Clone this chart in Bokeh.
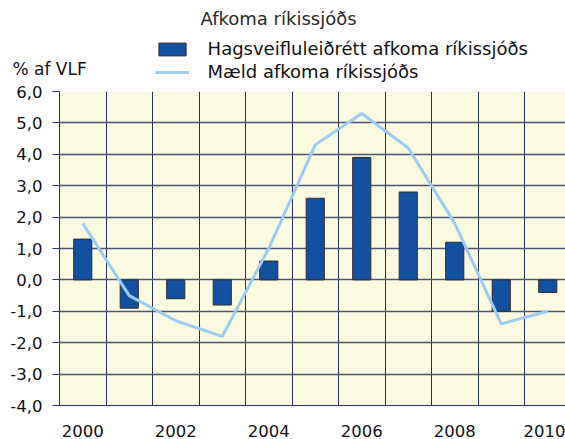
from bokeh.plotting import figure
from bokeh.layouts import column
from bokeh.models import Range1d, FixedTicker, Label, Legend, LegendItem, ColumnDataSource
from bokeh.embed import file_html
from bokeh.resources import INLINE

# ---- data ----
years = ["2000", "2001", "2002", "2003", "2004", "2005", "2006", "2007", "2008", "2009", "2010"]
structural_balance = [1.3, -0.9, -0.6, -0.8, 0.6, 2.6, 3.9, 2.8, 1.2, -1.0, -0.4]
measured_balance = [1.8, -0.5, -1.3, -1.8, 1.0, 4.3, 5.3, 4.2, 1.8, -1.4, -1.0]
y_ticks = [-4, -3, -2, -1, 0, 1, 2, 3, 4, 5, 6]
y_tick_labels = ["-4,0", "-3,0", "-2,0", "-1,0", "0,0", "1,0", "2,0", "3,0", "4,0", "5,0", "6,0"]
title_text = "Afkoma ríkissjóðs"
series_names = ["Hagsveifluleiðrétt afkoma ríkissjóðs", "Mæld afkoma ríkissjóðs"]
unit_text = "% af VLF"

# ---- styles / layout (pixels) ----
W = 565
TOP_H = 82
MAIN_H = 439 - TOP_H
LEFT = 59
PX_PER_CAT = 46.5
FONT = "DejaVu Sans"
NAVY = "#26305e"
HGRID = "#4c5474"
BAR_FILL = "#1450A0"
BAR_LINE = "#2d2d2d"
LINE_COLOR = "#9DCBEF"
TEXT = "#111111"

idx = list(range(len(years)))
src = ColumnDataSource(dict(x=idx, s=structural_balance, m=measured_balance))

# ---------- header figure: title, legend, unit ----------
top = figure(width=W, height=TOP_H, output_backend="svg", toolbar_location=None,
             x_range=Range1d(-10, -9), y_range=Range1d(0, 1),
             x_axis_location=None, y_axis_location=None,
             min_border=0, outline_line_color=None, frame_align=False,
             background_fill_color="white", border_fill_color="white")
top.xgrid.visible = False
top.ygrid.visible = False

# legend-only renderers (their data lies outside this header's ranges)
leg_bar = top.vbar(x="x", top="s", bottom=0, width=0.39, source=src,
                   fill_color=BAR_FILL, line_color=BAR_LINE, line_width=1)
leg_line = top.line(x="x", y="m", source=src, line_color=LINE_COLOR, line_width=3)

top.add_layout(Label(x=278, y=TOP_H - 17.5, x_units="screen", y_units="screen",
                     text=title_text, text_align="center", text_baseline="middle",
                     text_font=FONT, text_font_size="18px", text_color="#2a2a2a"))
top.add_layout(Label(x=12, y=TOP_H - 68, x_units="screen", y_units="screen",
                     text=unit_text, text_align="left", text_baseline="middle",
                     text_font=FONT, text_font_size="17px", text_color=TEXT))

legend = Legend(items=[LegendItem(label=series_names[0], renderers=[leg_bar]),
                       LegendItem(label=series_names[1], renderers=[leg_line])],
                location=(154.6, 0), orientation="vertical",
                padding=0, margin=0, spacing=2, glyph_width=34, glyph_height=16,
                label_height=21, label_standoff=19,
                border_line_color=None, background_fill_alpha=0,
                label_text_font=FONT, label_text_font_size="18px", label_text_color=TEXT)
top.add_layout(legend)

# ---------- main chart ----------
frame_w = W - LEFT
p = figure(width=W, height=MAIN_H, output_backend="svg", toolbar_location=None,
           x_range=Range1d(-0.5, -0.5 + frame_w / PX_PER_CAT),
           y_range=Range1d(y_ticks[0], y_ticks[-1]),
           min_border_left=LEFT, min_border_right=0, min_border_top=91 - TOP_H,
           min_border_bottom=33,
           background_fill_color="#FAFAE1", border_fill_color="white",
           outline_line_color=None, frame_align=False)

bars = p.vbar(x="x", top="s", bottom=0, width=0.39, source=src,
              fill_color=BAR_FILL, line_color=BAR_LINE, line_width=1)
line = p.line(x="x", y="m", source=src, line_color=LINE_COLOR, line_width=3)

p.xgrid.ticker = FixedTicker(ticks=[i - 0.5 for i in idx] + [len(idx) - 0.5])
p.xgrid.grid_line_color = NAVY
p.xgrid.grid_line_width = 1
p.ygrid.ticker = FixedTicker(ticks=y_ticks)
p.ygrid.grid_line_color = HGRID
p.ygrid.grid_line_width = 1.3

xa = p.xaxis[0]
xa.ticker = FixedTicker(ticks=idx[::2])
xa.major_label_overrides = {i: years[i] for i in idx[::2]}
xa.major_tick_line_color = None
xa.minor_tick_line_color = None
xa.axis_line_color = NAVY
xa.major_label_standoff = 13
xa.major_label_text_font = FONT
xa.major_label_text_font_size = "16.5px"
xa.major_label_text_color = TEXT

ya = p.yaxis[0]
ya.ticker = FixedTicker(ticks=y_ticks)
ya.major_label_overrides = {t: l for t, l in zip(y_ticks, y_tick_labels)}
ya.major_tick_out = 7
ya.major_tick_in = 0
ya.major_tick_line_color = NAVY
ya.minor_tick_line_color = None
ya.axis_line_color = NAVY
ya.major_label_standoff = 10
ya.major_label_text_font = FONT
ya.major_label_text_font_size = "16.5px"
ya.major_label_text_color = TEXT

layout = column(top, p, spacing=0)
open("out.html", "w").write(file_html(layout, INLINE))
